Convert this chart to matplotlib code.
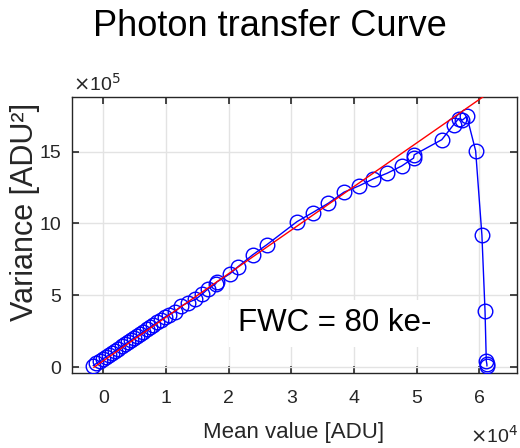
import matplotlib
matplotlib.use("Agg")
import matplotlib.pyplot as plt
import numpy as np

plt.rcParams['font.family'] = ['Liberation Sans', 'DejaVu Sans']

# Mean signal (units of 1e4 ADU) and variance (units of 1e5 ADU^2)
mean_1e4 = [-0.16, -0.11, -0.06, -0.01, 0.04, 0.09, 0.14, 0.19, 0.24, 0.29,
            0.34, 0.39, 0.44, 0.49, 0.54, 0.59, 0.64, 0.69, 0.74, 0.80,
            0.86, 0.92, 0.98, 1.04, 1.14, 1.24, 1.35, 1.47, 1.58, 1.67,
            1.79, 1.81, 2.02, 2.15, 2.38, 2.61, 3.09, 3.34, 3.59, 3.84,
            4.08, 4.31, 4.53, 4.76, 4.95, 4.96, 5.40, 5.59, 5.67, 5.73,
            5.80, 5.94, 6.04, 6.09, 6.11, 6.12, 6.12]
var_1e5 = [0.12, 0.27, 0.42, 0.56, 0.71, 0.86, 1.00, 1.15, 1.30, 1.45,
           1.60, 1.74, 1.89, 2.04, 2.19, 2.33, 2.48, 2.63, 2.78, 2.95,
           3.13, 3.31, 3.48, 3.66, 3.85, 4.25, 4.50, 4.72, 5.10, 5.45,
           5.80, 5.93, 6.50, 7.00, 7.81, 8.53, 10.13, 10.76, 11.41, 12.18,
           12.62, 13.11, 13.50, 14.00, 14.55, 14.78, 15.83, 16.88, 17.30, 17.20,
           17.45, 15.06, 9.20, 3.90, 0.45, 0.20, 0.10]

# Linear fit of the photon transfer region
fit_x = [-0.15, 6.3]
fit_slope = 3.03
fit_x0 = -0.15

title = "Photon transfer Curve"
xlabel = "Mean value [ADU]"
ylabel = "Variance [ADU²]"
annot = "FWC = 80 ke-"
xticks = [0, 1, 2, 3, 4, 5, 6]
yticks = [0, 5, 10, 15]

fig = plt.figure(figsize=(5.2, 4.48), dpi=100)
ax = fig.add_axes([72/520, 1-373/448, (517-72)/520, (373-97)/448])

ax.plot(mean_1e4, var_1e5, color=(0, 0, 1), lw=1.0, marker='o',
        markersize=10.5, markerfacecolor='none', markeredgecolor=(0, 0, 1),
        markeredgewidth=1.0, zorder=3)
fx = np.array(fit_x)
ax.plot(fx, fit_slope*(fx - fit_x0), color=(1, 0, 0), lw=1.0, zorder=4)

ax.set_xlim(-0.5, 6.6)
ax.set_ylim(-0.4, 18.8)
ax.set_xticks(xticks)
ax.set_yticks(yticks)
ax.set_xticklabels([str(t) for t in xticks])
ax.set_yticklabels([str(t) for t in yticks])
ax.grid(True, color='#e3e3e3', lw=1.0, zorder=0)
ax.set_axisbelow(True)
ax.tick_params(direction='in', length=5, width=1.2, colors='#262626',
               labelsize=14, top=True, right=True)
ax.tick_params(axis='x', pad=12)
ax.tick_params(axis='y', pad=8)
for s in ax.spines.values():
    s.set_color('#262626')
    s.set_linewidth(1.0)

ax.text(3.69, 3.07, annot, fontsize=22.5, ha='center', va='center',
        bbox=dict(facecolor='white', edgecolor='none', pad=6), zorder=5)

fig.text(270/520, 1-27/448, title, fontsize=26, ha='center', va='center')
fig.text(294/520, 1-432/448, xlabel, fontsize=16, ha='center', va='center',
         color='#262626')
fig.text(25/520, 1-212/448, ylabel, fontsize=22, ha='center', va='center',
         rotation=90, color='#262626')
fig.text(73/520, 1-84/448, r"$\times$10$^5$", fontsize=14, ha='left',
         va='center', color='#262626')
fig.text(470/520, 1-436/448, r"$\times$10$^4$", fontsize=14, ha='left',
         va='center', color='#262626')

fig.savefig("out.png", dpi=100)
